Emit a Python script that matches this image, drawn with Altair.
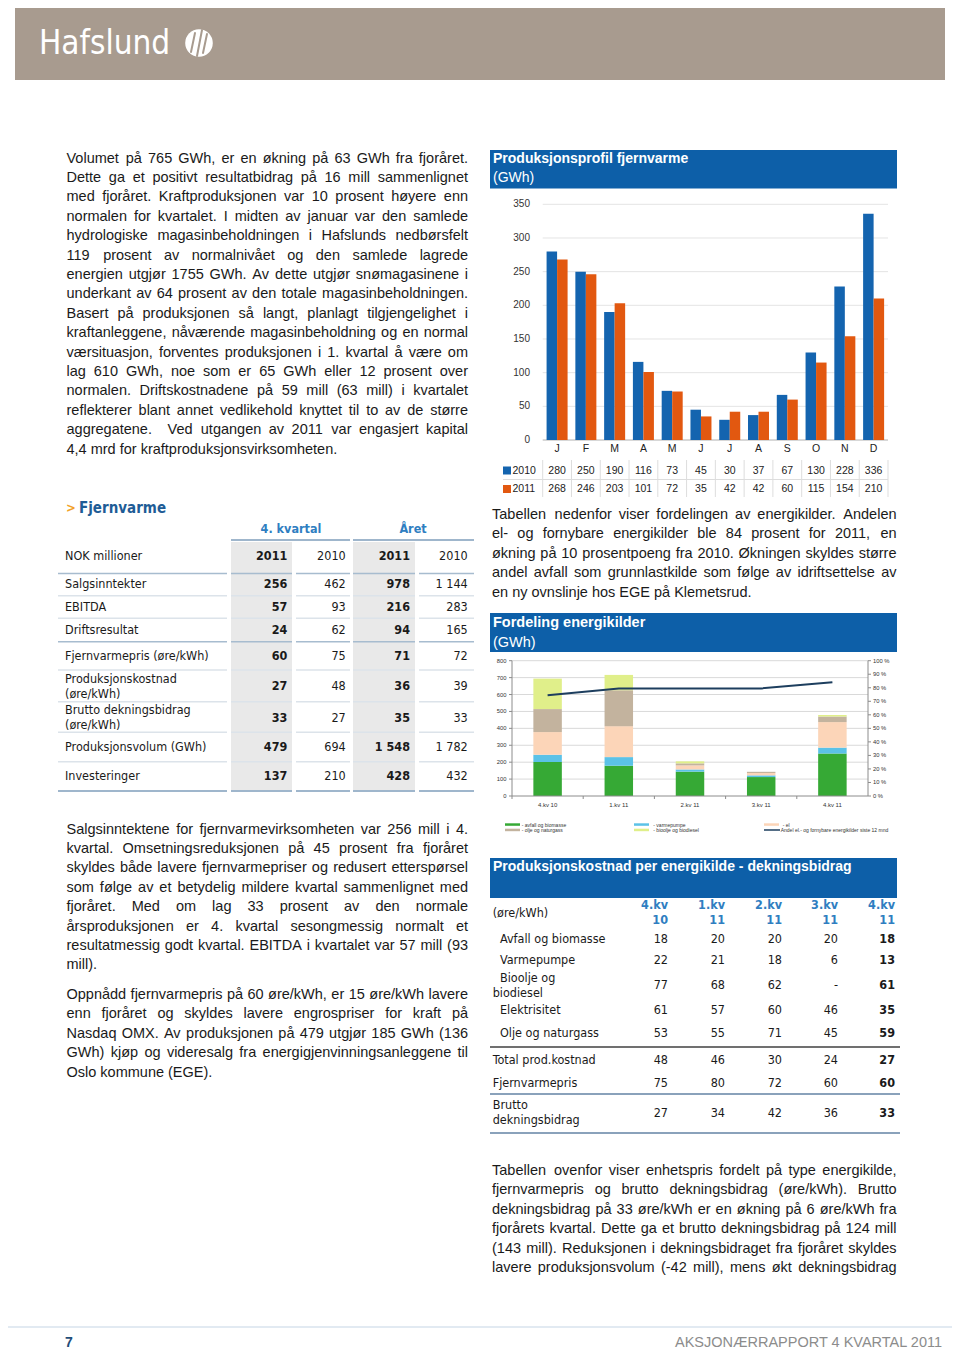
import re
import altair as alt
import pandas as pd

# ---------------- data ----------------
months_key = ["jan", "feb", "mar", "apr", "mai", "jun", "jul", "aug", "sep", "okt", "nov", "des"]
month_labels = ["J", "F", "M", "A", "M", "J", "J", "A", "S", "O", "N", "D"]
prod_2010 = [280, 250, 190, 116, 73, 45, 30, 37, 67, 130, 228, 336]
prod_2011 = [268, 246, 203, 101, 72, 35, 42, 42, 60, 115, 154, 210]
prod_ticks = [0, 50, 100, 150, 200, 250, 300, 350]

quarters = ["4.kv 10", "1.kv 11", "2.kv 11", "3.kv 11", "4.kv 11"]
source_names = ["avfall og biomasse", "varmepumpe", "el", "olje og naturgass", "bioolje og biodiesel"]
avfall_biomasse = [201, 179, 144, 112, 251]
varmepumpe = [43, 51, 13, 10, 35]
el = [134, 183, 24, 14, 151]
olje_naturgass = [136, 212, 12, 7, 33]
bioolje_biodiesel = [180, 91, 12, 0, 9]
andel_fornybar = [0.745, 0.795, 0.795, 0.795, 0.84]
gwh_ticks = [0, 100, 200, 300, 400, 500, 600, 700, 800]
pct_ticks = [0, 0.1, 0.2, 0.3, 0.4, 0.5, 0.6, 0.7, 0.8, 0.9, 1.0]
pct_labels = ["0 %", "10 %", "20 %", "30 %", "40 %", "50 %", "60 %", "70 %", "80 %", "90 %", "100 %"]

fv_labels = ["Salgsinntekter", "EBITDA", "Driftsresultat", "Fjernvarmepris (øre/kWh)",
             "Produksjonskostnad|(øre/kWh)", "Brutto dekningsbidrag|(øre/kWh)",
             "Produksjonsvolum (GWh)", "Investeringer"]
fv_q4_2011 = ["256", "57", "24", "60", "27", "33", "479", "137"]
fv_q4_2010 = ["462", "93", "62", "75", "48", "27", "694", "210"]
fv_yr_2011 = ["978", "216", "94", "71", "36", "35", "1 548", "428"]
fv_yr_2010 = ["1 144", "283", "165", "72", "39", "33", "1 782", "432"]

pk_columns = ["4.kv|10", "1.kv|11", "2.kv|11", "3.kv|11", "4.kv|11"]
pk_labels = ["Avfall og biomasse", "Varmepumpe", "Bioolje og|biodiesel", "Elektrisitet",
             "Olje og naturgass", "Total prod.kostnad", "Fjernvarmepris", "Brutto|dekningsbidrag"]
pk_q4_10 = ["18", "22", "77", "61", "53", "48", "75", "27"]
pk_q1_11 = ["20", "21", "68", "57", "55", "46", "80", "34"]
pk_q2_11 = ["20", "18", "62", "60", "71", "30", "72", "42"]
pk_q3_11 = ["20", "6", "-", "46", "45", "24", "60", "36"]
pk_q4_11 = ["18", "13", "61", "35", "59", "27", "60", "33"]

text_p1 = [
    "Volumet på 765 GWh, er en økning på 63 GWh fra fjoråret.",
    "Dette ga et positivt resultatbidrag på 16 mill sammenlignet",
    "med fjoråret. Kraftproduksjonen var 10 prosent høyere enn",
    "normalen for kvartalet. I midten av januar var den samlede",
    "hydrologiske magasinbeholdningen i Hafslunds nedbørsfelt",
    "119 prosent av normalnivået og den samlede lagrede",
    "energien utgjør 1755 GWh. Av dette utgjør snømagasinene i",
    "underkant av 64 prosent av den totale magasinbeholdningen.",
    "Basert på produksjonen så langt, planlagt tilgjengelighet i",
    "kraftanleggene, nåværende magasinbeholdning og en normal",
    "værsituasjon, forventes produksjonen i 1. kvartal å være om",
    "lag 610 GWh, noe som er 65 GWh eller 12 prosent over",
    "normalen. Driftskostnadene på 59 mill (63 mill) i kvartalet",
    "reflekterer blant annet vedlikehold knyttet til to av de større",
    "aggregatene.   Ved utgangen av 2011 var engasjert kapital",
    "4,4 mrd for kraftproduksjonsvirksomheten.",
]
text_p2 = [
    "Salgsinntektene for fjernvarmevirksomheten var 256 mill i 4.",
    "kvartal. Omsetningsreduksjonen på 45 prosent fra fjoråret",
    "skyldes både lavere fjernvarmepriser og redusert etterspørsel",
    "som følge av et betydelig mildere kvartal sammenlignet med",
    "fjoråret. Med om lag 33 prosent av den normale",
    "årsproduksjonen er 4. kvartal sesongmessig normalt et",
    "resultatmessig godt kvartal. EBITDA i kvartalet var 57 mill (93",
    "mill).",
]
text_p3 = [
    "Oppnådd fjernvarmepris på 60 øre/kWh, er 15 øre/kWh lavere",
    "enn fjoråret og skyldes lavere engrospriser for kraft på",
    "Nasdaq OMX. Av produksjonen på 479 utgjør 185 GWh (136",
    "GWh) kjøp og videresalg fra energigjenvinningsanleggene til",
    "Oslo kommune (EGE).",
]
text_r1 = [
    "Tabellen nedenfor viser fordelingen av energikilder. Andelen",
    "el- og fornybare energikilder ble 84 prosent for 2011, en",
    "økning på 10 prosentpoeng fra 2010. Økningen skyldes større",
    "andel avfall som grunnlastkilde som følge av idriftsettelse av",
    "en ny ovnslinje hos EGE på Klemetsrud.",
]
text_r2 = [
    "Tabellen ovenfor viser enhetspris fordelt på type energikilde,",
    "fjernvarmepris og brutto dekningsbidrag (øre/kWh). Brutto",
    "dekningsbidrag på 33 øre/kWh er en økning på 6 øre/kWh fra",
    "fjorårets kvartal. Dette ga et brutto dekningsbidrag på 124 mill",
    "(143 mill). Reduksjonen i dekningsbidraget fra fjoråret skyldes",
    "lavere produksjonsvolum (-42 mill), mens økt dekningsbidrag",
]

# ---------------- styling / layout helpers ----------------
OX, OY = 8, 8
SANS = "Liberation Sans, Arial, Helvetica, sans-serif"
TAB = "DejaVu Sans Condensed, DejaVu Sans, sans-serif"
NARROW = "Liberation Sans Narrow, DejaVu Sans Condensed, sans-serif"
INK = "#1a1a1a"
HDR_BLUE = "#0d5fa8"
COL_BLUE = "#2f7ec1"
BAR_BLUE = "#1464af"
BAR_ORANGE = "#e25810"
SRC_COLORS = ["#36a935", "#5bc2e7", "#fcd5b8", "#c3b39e", "#e0ef8a"]
NAVY = "#1d3e5e"
BAND = "#a89b8f"

HELV = {' ': 278, '!': 278, '%': 889, '(': 333, ')': 333, ',': 278, '-': 333, '.': 278, '/': 278,
        ':': 278, ';': 278,
        'A': 667, 'B': 667, 'C': 722, 'D': 722, 'E': 667, 'F': 611, 'G': 778, 'H': 722, 'I': 278,
        'J': 500, 'K': 667, 'L': 556, 'M': 833, 'N': 722, 'O': 778, 'P': 667, 'Q': 778, 'R': 722,
        'S': 667, 'T': 611, 'U': 722, 'V': 667, 'W': 944, 'X': 667, 'Y': 667, 'Z': 611,
        'a': 556, 'b': 556, 'c': 500, 'd': 556, 'e': 556, 'f': 278, 'g': 556, 'h': 556, 'i': 222,
        'j': 222, 'k': 500, 'l': 222, 'm': 833, 'n': 556, 'o': 556, 'p': 556, 'q': 556, 'r': 333,
        's': 500, 't': 278, 'u': 556, 'v': 500, 'w': 722, 'x': 500, 'y': 500, 'z': 500,
        'å': 556, 'æ': 889, 'ø': 611, 'Å': 667, 'Æ': 1000, 'Ø': 778}


def tw(s, fs):
    return sum(HELV.get(c, 556) for c in s) * fs / 1000.0


def paragraph(lines, x0, x1, y0, lh, fs, justify_last=False):
    rows = []
    for i, line in enumerate(lines):
        parts = re.split(r"( +)", line.strip())
        words = parts[0::2]
        gaps = [len(g) for g in parts[1::2]]
        sp = tw(" ", fs)
        natural = sum(tw(w, fs) for w in words) + sum(gaps) * sp
        last = (i == len(lines) - 1) and not justify_last
        extra = 0.0 if (last or not gaps) else (x1 - x0 - natural) / len(gaps)
        x = x0
        y = y0 + i * lh
        for j, w in enumerate(words):
            rows.append((w, x, y))
            x += tw(w, fs)
            if j < len(gaps):
                x += gaps[j] * sp + extra
    return rows


def text_layer(rows, size, color=INK, font=SANS, weight="normal", align="left"):
    df = pd.DataFrame(rows, columns=["t", "x", "y"])
    df["x"] = df["x"] - OX
    df["y"] = df["y"] - OY
    return alt.Chart(df).mark_text(align=align, baseline="middle", fontSize=size, font=font,
                                   fontWeight=weight, color=color).encode(
        x=alt.X("x:Q", scale=None), y=alt.Y("y:Q", scale=None), text="t:N")


def rule_layer(rows, color, width=1.0, cap="butt"):
    df = pd.DataFrame(rows, columns=["x1", "y1", "x2", "y2"])
    df[["x1", "x2"]] -= OX
    df[["y1", "y2"]] -= OY
    return alt.Chart(df).mark_rule(color=color, strokeWidth=width, strokeCap=cap).encode(
        x=alt.X("x1:Q", scale=None), y=alt.Y("y1:Q", scale=None), x2="x2:Q", y2="y2:Q")


def rect_layer(rows, color):
    df = pd.DataFrame(rows, columns=["x1", "y1", "x2", "y2"])
    df[["x1", "x2"]] -= OX
    df[["y1", "y2"]] -= OY
    return alt.Chart(df).mark_rect(color=color).encode(
        x=alt.X("x1:Q", scale=None), y=alt.Y("y1:Q", scale=None), x2="x2:Q", y2="y2:Q")


layers = []

# ---------------- page header ----------------
layers.append(rect_layer([(15, 3, 945, 80)], BAND))
layers.append(text_layer([("Hafslund", 39, 44)], 33, color="white", font=NARROW))
logo = pd.DataFrame({"x": [199 - OX], "y": [43 - OY]})
layers.append(alt.Chart(logo).mark_point(filled=True, size=760, color="white", opacity=1).encode(
    x=alt.X("x:Q", scale=None), y=alt.Y("y:Q", scale=None)))
layers.append(rule_layer([(191, 52, 195, 33), (197, 56, 202, 30), (203, 53, 207, 34)], BAND, 2.0, "round"))

# ---------------- body text ----------------
LX0, LX1 = 66.5, 468.0
RX0, RX1 = 492.0, 896.5
FS = 14.5
LH = 19.4
body = []
body += paragraph(text_p1, LX0, LX1, 158.5, LH, FS)
body += paragraph(text_p2, LX0, LX1, 829.5, LH, FS)
body += paragraph(text_p3, LX0, LX1, 995.0, LH, FS)
body += paragraph(text_r1, RX0, RX1, 515.0, LH, FS)
body += paragraph(text_r2, RX0, RX1, 1171.0, LH, FS, justify_last=True)
layers.append(text_layer(body, FS))

# ---------------- Fjernvarme table ----------------
layers.append(text_layer([(">", 66, 508)], 13, color="#f2a229", font=TAB, weight="bold"))
layers.append(text_layer([("Fjernvarme", 79, 508)], 15, color="#1e5c96", font=TAB, weight="bold"))
layers.append(text_layer([("4. kvartal", 291, 529), ("Året", 413, 529)], 12.5, color=COL_BLUE,
                         font=TAB, weight="bold", align="center"))
layers.append(rect_layer([(231, 542, 292, 790), (353, 542, 415, 790)], "#e9e9e9"))
seg = [(58, 227), (231, 292), (296, 350), (353, 415), (419, 474)]
layers.append(rule_layer([(231, 540, 350, 540), (353, 540, 474, 540)], "#9fb6cc", 2))
light_rows = [595.7, 618.3, 670, 701.7, 732.3, 761.7]
layers.append(rule_layer([(a, y, b, y) for y in light_rows for a, b in seg], "#dce3ea", 1.5))
layers.append(rule_layer([(a, y, b, y) for y in [573.5, 641.7] for a, b in seg], "#a7bccf", 1.5))
layers.append(rule_layer([(a, 791, b, 791) for a, b in seg], "#9fb6cc", 2))

fv_y = [584.3, 606.7, 630, 656, 686, 717.8, 746.7, 776]
fv_cols = [287.3, 345.7, 410, 467.7]
lab_rows = [("NOK millioner", 65, 556)]
for lab, y in zip(fv_labels, fv_y):
    parts = lab.split("|")
    if len(parts) == 1:
        lab_rows.append((parts[0], 65, y))
    else:
        lab_rows.append((parts[0], 65, y - 7.5))
        lab_rows.append((parts[1], 65, y + 7.5))
layers.append(text_layer(lab_rows, 12.5, font=TAB))
bold_vals = [("2011", fv_cols[0], 556), ("2011", fv_cols[2], 556)]
norm_vals = [("2010", fv_cols[1], 556), ("2010", fv_cols[3], 556)]
for i, y in enumerate(fv_y):
    bold_vals.append((fv_q4_2011[i], fv_cols[0], y))
    norm_vals.append((fv_q4_2010[i], fv_cols[1], y))
    bold_vals.append((fv_yr_2011[i], fv_cols[2], y))
    norm_vals.append((fv_yr_2010[i], fv_cols[3], y))
layers.append(text_layer(bold_vals, 12.5, font=TAB, weight="bold", align="right"))
layers.append(text_layer(norm_vals, 12.5, font=TAB, align="right"))

# ---------------- Chart 1: Produksjonsprofil fjernvarme ----------------
layers.append(rect_layer([(490, 150, 897, 188.5)], HDR_BLUE))
layers.append(text_layer([("Produksjonsprofil fjernvarme", 493, 159)], 14, color="white", weight="bold"))
layers.append(text_layer([("(GWh)", 493, 178)], 14, color="white"))

xs1 = alt.Scale(domain=months_key, range=[542.7 - OX, 888 - OX], paddingInner=0.27, paddingOuter=0.135)
ys1 = alt.Scale(domain=[0, 350], range=[440 - OY, 204.3 - OY], nice=False, zero=True)
step1 = (888 - 542.7) / 12.0
df_prod = pd.DataFrame({"month": months_key, "label": month_labels, "v10": prod_2010, "v11": prod_2011})
df_pt = pd.DataFrame({"t": prod_ticks})

layers.append(alt.Chart(df_pt[df_pt.t > 0]).mark_rule(color="#e4e4e4", strokeWidth=1).encode(
    y=alt.Y("t:Q", scale=ys1, axis=None), x=alt.value(542.7 - OX), x2=alt.value(888 - OX)))
layers.append(alt.Chart(df_pt[df_pt.t == 0]).mark_rule(color="#b0b0b0", strokeWidth=1).encode(
    y=alt.Y("t:Q", scale=ys1, axis=None), x=alt.value(542.7 - OX), x2=alt.value(888 - OX)))
layers.append(alt.Chart(df_pt).mark_text(align="right", baseline="middle", fontSize=10, font=SANS,
                                          color="#333333").encode(
    y=alt.Y("t:Q", scale=ys1, axis=None), x=alt.value(530 - OX), text="t:Q"))
bw1 = step1 * (1 - 0.27) / 2
layers.append(alt.Chart(df_prod).mark_bar(size=bw1, xOffset=-bw1 / 2, color=BAR_BLUE).encode(
    x=alt.X("month:N", scale=xs1, axis=None), y=alt.Y("v10:Q", scale=ys1, axis=None)))
layers.append(alt.Chart(df_prod).mark_bar(size=bw1, xOffset=bw1 / 2, color=BAR_ORANGE).encode(
    x=alt.X("month:N", scale=xs1, axis=None), y=alt.Y("v11:Q", scale=ys1, axis=None)))
layers.append(alt.Chart(df_prod).mark_text(baseline="middle", fontSize=10.5, font=SANS, color="#222222").encode(
    x=alt.X("month:N", scale=xs1, axis=None), y=alt.value(449 - OY), text="label:N"))
layers.append(alt.Chart(df_prod).mark_text(baseline="middle", fontSize=10.5, font=SANS, color="#222222").encode(
    x=alt.X("month:N", scale=xs1, axis=None), y=alt.value(470.5 - OY), text="v10:Q"))
layers.append(alt.Chart(df_prod).mark_text(baseline="middle", fontSize=10.5, font=SANS, color="#222222").encode(
    x=alt.X("month:N", scale=xs1, axis=None), y=alt.value(489 - OY), text="v11:Q"))
layers.append(alt.Chart(df_prod).mark_rule(color="#dddddd", xOffset=-step1 * 0.27 / 2).encode(
    x=alt.X("month:N", scale=xs1, axis=None, bandPosition=0), y=alt.value(460 - OY), y2=alt.value(497 - OY)))
layers.append(rule_layer([(888, 460, 888, 497), (503, 479.5, 888, 479.5)], "#dddddd", 1))
layers.append(rect_layer([(503, 466.5, 511, 474.5)], BAR_BLUE))
layers.append(rect_layer([(503, 485, 511, 493)], BAR_ORANGE))
layers.append(text_layer([("2010", 512.5, 470.5), ("2011", 512.5, 489)], 10.5, color="#222222"))

# ---------------- Chart 2: Fordeling energikilder ----------------
layers.append(rect_layer([(490, 613, 897, 652)], HDR_BLUE))
layers.append(text_layer([("Fordeling energikilder", 493, 622.5)], 14.5, color="white", weight="bold"))
layers.append(text_layer([("(GWh)", 493, 643)], 14.5, color="white"))

xs2 = alt.Scale(domain=quarters, range=[512 - OX, 868 - OX], paddingInner=0.6, paddingOuter=0.3)
ys2 = alt.Scale(domain=[0, 800], range=[796 - OY, 660.7 - OY], nice=False, zero=True)
yp2 = alt.Scale(domain=[0, 1], range=[796 - OY, 660.7 - OY], nice=False, zero=True)
step2 = (868 - 512) / 5.0

df_gt = pd.DataFrame({"t": gwh_ticks})
df_pct = pd.DataFrame({"t": pct_ticks, "lab": pct_labels})
layers.append(alt.Chart(df_gt[df_gt.t > 0]).mark_rule(color="#d9d9d9").encode(
    y=alt.Y("t:Q", scale=ys2, axis=None), x=alt.value(512 - OX), x2=alt.value(868 - OX)))

src_rows = []
for k, (name, vals) in enumerate(zip(source_names, [avfall_biomasse, varmepumpe, el, olje_naturgass, bioolje_biodiesel])):
    for q, v in zip(quarters, vals):
        src_rows.append({"quarter": q, "source": name, "value": v, "ord": k})
df_src = pd.DataFrame(src_rows)
layers.append(alt.Chart(df_src).mark_bar().encode(
    x=alt.X("quarter:N", scale=xs2, axis=None),
    y=alt.Y("value:Q", scale=ys2, axis=None, stack="zero"),
    color=alt.Color("source:N", scale=alt.Scale(domain=source_names, range=SRC_COLORS), legend=None),
    order=alt.Order("ord:Q", sort="ascending")))

df_share = pd.DataFrame({"quarter": quarters, "share": andel_fornybar})
layers.append(alt.Chart(df_share).mark_line(color=NAVY, strokeWidth=2).encode(
    x=alt.X("quarter:N", scale=xs2, axis=None), y=alt.Y("share:Q", scale=yp2, axis=None)))

# axes of chart 2
layers.append(rule_layer([(512, 660.7, 512, 796), (868, 660.7, 868, 796), (512, 796, 868, 796)], "#8c8c8c", 1))
layers.append(alt.Chart(df_gt).mark_rule(color="#8c8c8c").encode(
    y=alt.Y("t:Q", scale=ys2, axis=None), x=alt.value(509 - OX), x2=alt.value(512 - OX)))
layers.append(alt.Chart(df_pct).mark_rule(color="#8c8c8c").encode(
    y=alt.Y("t:Q", scale=yp2, axis=None), x=alt.value(868 - OX), x2=alt.value(871 - OX)))
layers.append(alt.Chart(df_share).mark_rule(color="#8c8c8c", xOffset=-step2 * 0.6 / 2).encode(
    x=alt.X("quarter:N", scale=xs2, axis=None, bandPosition=0), y=alt.value(796 - OY), y2=alt.value(799 - OY)))
layers.append(alt.Chart(df_gt).mark_text(align="right", baseline="middle", fontSize=5.8, font=SANS,
                                          color="#333333").encode(
    y=alt.Y("t:Q", scale=ys2, axis=None), x=alt.value(506.5 - OX), text="t:Q"))
layers.append(alt.Chart(df_pct).mark_text(align="left", baseline="middle", fontSize=5.8, font=SANS,
                                           color="#333333").encode(
    y=alt.Y("t:Q", scale=yp2, axis=None), x=alt.value(873 - OX), text="lab:N"))
layers.append(alt.Chart(df_share).mark_text(baseline="middle", fontSize=6, font=SANS, color="#333333").encode(
    x=alt.X("quarter:N", scale=xs2, axis=None), y=alt.value(805 - OY), text="quarter:N"))

# legend of chart 2
sw = [(505, 823.3, 520, 825.8, SRC_COLORS[0]), (505, 828.7, 520, 831.2, SRC_COLORS[3]),
      (634, 823.3, 649, 825.8, SRC_COLORS[1]), (634, 828.7, 649, 831.2, SRC_COLORS[4]),
      (764, 823.3, 779, 825.8, SRC_COLORS[2])]
for x1, y1, x2, y2, c in sw:
    layers.append(rect_layer([(x1, y1, x2, y2)], c))
layers.append(rule_layer([(764, 830, 780, 830)], NAVY, 1.5))
layers.append(text_layer([("- " + source_names[0], 521.7, 824.6), ("- " + source_names[3], 521.7, 830),
                          ("- " + source_names[1], 653.3, 824.6), ("- " + source_names[4], 653.3, 830),
                          ("- " + source_names[2], 782.7, 824.6),
                          ("Andel el.- og fornybare energikilder siste 12 mnd", 780.7, 830)],
                         5.0, color="#333333"))

# ---------------- Table: Produksjonskostnad ----------------
layers.append(rect_layer([(490, 858, 897, 898)], HDR_BLUE))
layers.append(text_layer([("Produksjonskostnad per energikilde - dekningsbidrag", 493, 867)], 14,
                         color="white", weight="bold"))
pk_cols_x = [668, 725, 782, 838, 895]
hdr = []
for c, x in zip(pk_columns, pk_cols_x):
    a, b = c.split("|")
    hdr.append((a, x, 905))
    hdr.append((b, x, 920))
layers.append(text_layer(hdr, 12.5, color=COL_BLUE, font=TAB, weight="bold", align="right"))
pk_y = [939, 960, 985, 1010, 1033, 1060, 1083, 1112.5]
labs = [("(øre/kWh)", 492.7, 913)]
for i, (lab, y) in enumerate(zip(pk_labels, pk_y)):
    indent = 500 if i < 5 else 492.7
    parts = lab.split("|")
    if len(parts) == 1:
        labs.append((parts[0], indent, y))
    else:
        labs.append((parts[0], indent, y - 7.5))
        labs.append((parts[1], 492.7, y + 7.5))
layers.append(text_layer(labs, 12.5, font=TAB))
vals_n, vals_b = [], []
for i, y in enumerate(pk_y):
    for col, x in zip([pk_q4_10, pk_q1_11, pk_q2_11, pk_q3_11], pk_cols_x[:4]):
        vals_n.append((col[i], x, y))
    vals_b.append((pk_q4_11[i], pk_cols_x[4], y))
layers.append(text_layer(vals_n, 12.5, font=TAB, align="right"))
layers.append(text_layer(vals_b, 12.5, font=TAB, weight="bold", align="right"))
layers.append(rule_layer([(490, 1047, 900, 1047)], "#404040", 1.5))
layers.append(rule_layer([(490, 1094, 900, 1094), (490, 1133, 900, 1133)], "#8aa2bb", 2))

# ---------------- footer ----------------
layers.append(rule_layer([(5, 1327, 955, 1327)], "#c5d5e5", 1))
layers.append(text_layer([("7", 65, 1343)], 14, color="#1f4e79", weight="bold"))
layers.append(text_layer([("AKSJONÆRRAPPORT 4 KVARTAL 2011", 942, 1343)], 14.5, color="#8c8c8c", align="right"))

chart = alt.layer(*layers).resolve_scale(
    x="independent", y="independent", color="independent"
).properties(
    width=944, height=1342, padding=0, background="white",
    autosize=alt.AutoSizeParams(type="none"),
).configure_view(stroke=None)

chart.save("out.html", embed_options={"renderer": "svg", "actions": False})
